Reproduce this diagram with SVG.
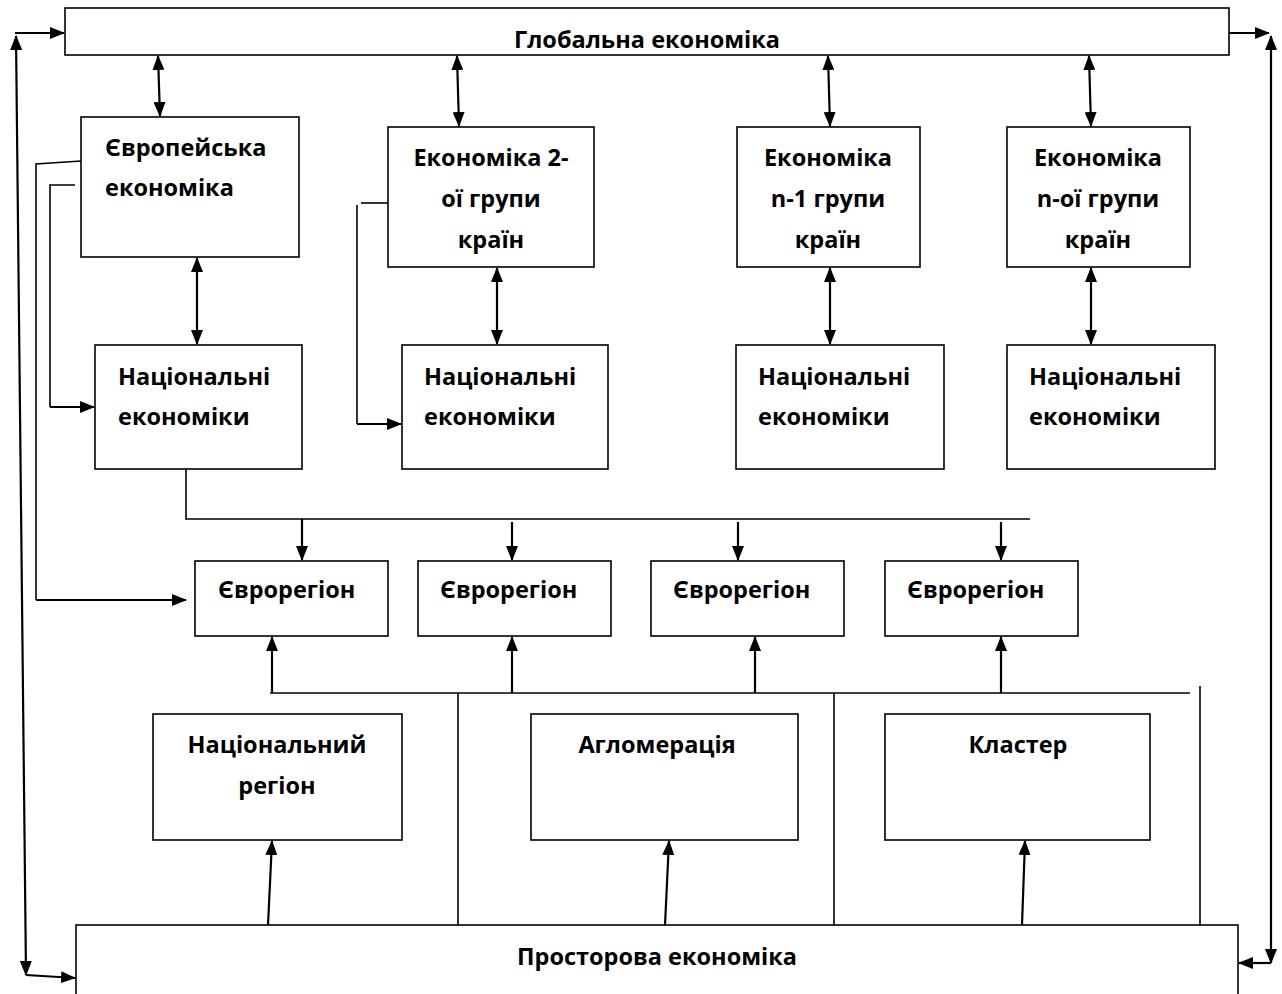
<svg xmlns="http://www.w3.org/2000/svg" width="1282" height="994" viewBox="0 0 1282 994">
<style>
.box{fill:#fff;stroke:#000;stroke-width:1.6}
.t{font-family:"Open Sans","Noto Sans",sans-serif;font-weight:bold;font-size:23.5px;fill:#000}
.c{text-anchor:middle}
.ln{fill:none;stroke:#000;stroke-width:1.6}
.ar{fill:none;stroke:#000;stroke-width:2.2}
</style>
<defs>
<marker id="ah" markerWidth="15" markerHeight="12" refX="14" refY="6" orient="auto" markerUnits="userSpaceOnUse"><path d="M0,0 L15,6 L0,12 Z" fill="#000"/></marker>
<marker id="as" markerWidth="15" markerHeight="12" refX="1" refY="6" orient="auto" markerUnits="userSpaceOnUse"><path d="M15,0 L0,6 L15,12 Z" fill="#000"/></marker>
</defs>
<g id="connectors">
<line class="ar" x1="15" y1="33" x2="64" y2="33" marker-end="url(#ah)"/>
<line class="ar" x1="26" y1="975" x2="16" y2="36" marker-end="url(#ah)" marker-start="url(#as)"/>
<line class="ar" x1="26" y1="975" x2="75" y2="978" marker-end="url(#ah)"/>
<line class="ar" x1="1229" y1="33" x2="1269" y2="33" marker-end="url(#ah)"/>
<line class="ar" x1="1271" y1="963" x2="1271" y2="36" marker-end="url(#ah)" marker-start="url(#as)"/>
<line class="ar" x1="1271" y1="963" x2="1239" y2="963" marker-end="url(#ah)"/>
<line class="ar" x1="158" y1="56" x2="160" y2="116" marker-start="url(#as)" marker-end="url(#ah)"/>
<line class="ar" x1="457" y1="56" x2="459" y2="126" marker-start="url(#as)" marker-end="url(#ah)"/>
<line class="ar" x1="828" y1="56" x2="830" y2="126" marker-start="url(#as)" marker-end="url(#ah)"/>
<line class="ar" x1="1089" y1="56" x2="1091" y2="126" marker-start="url(#as)" marker-end="url(#ah)"/>
<line class="ar" x1="197" y1="258" x2="197" y2="344" marker-start="url(#as)" marker-end="url(#ah)"/>
<line class="ar" x1="497" y1="268" x2="497" y2="344" marker-start="url(#as)" marker-end="url(#ah)"/>
<line class="ar" x1="830" y1="268" x2="830" y2="344" marker-start="url(#as)" marker-end="url(#ah)"/>
<line class="ar" x1="1091" y1="268" x2="1091" y2="344" marker-start="url(#as)" marker-end="url(#ah)"/>
<polyline class="ln" points="81,161 36,164 36,600"/>
<line class="ar" x1="36" y1="600" x2="186" y2="600" marker-end="url(#ah)"/>
<polyline class="ln" points="75,185 50,185 50,407"/>
<line class="ar" x1="50" y1="407" x2="94" y2="407" marker-end="url(#ah)"/>
<polyline class="ln" points="388,203 361,203"/>
<polyline class="ln" points="357,205 357,424"/>
<line class="ar" x1="357" y1="424" x2="401" y2="424" marker-end="url(#ah)"/>
<polyline class="ln" points="186,469 186,519 1030,519"/>
<line class="ar" x1="302" y1="519" x2="302" y2="560" marker-end="url(#ah)"/>
<line class="ar" x1="512" y1="522" x2="512" y2="560" marker-end="url(#ah)"/>
<line class="ar" x1="738" y1="522" x2="738" y2="560" marker-end="url(#ah)"/>
<line class="ar" x1="1001" y1="522" x2="1001" y2="560" marker-end="url(#ah)"/>
<line class="ln" x1="270" y1="693" x2="1190" y2="693"/>
<line class="ar" x1="272" y1="693" x2="272" y2="637" marker-end="url(#ah)"/>
<line class="ar" x1="512" y1="693" x2="512" y2="637" marker-end="url(#ah)"/>
<line class="ar" x1="755" y1="693" x2="755" y2="637" marker-end="url(#ah)"/>
<line class="ar" x1="1001" y1="693" x2="1001" y2="637" marker-end="url(#ah)"/>
<line class="ln" x1="458" y1="693" x2="458" y2="925"/>
<line class="ln" x1="834" y1="693" x2="834" y2="925"/>
<line class="ln" x1="1200" y1="686" x2="1200" y2="925"/>
<line class="ar" x1="268" y1="925" x2="272" y2="841" marker-end="url(#ah)"/>
<line class="ar" x1="665" y1="925" x2="669" y2="841" marker-end="url(#ah)"/>
<line class="ar" x1="1022" y1="925" x2="1025" y2="841" marker-end="url(#ah)"/>
</g>
<g id="global"><rect class="box" x="65" y="8" width="1164" height="47"/><text class="t c" x="647" y="48">Глобальна економіка</text></g>
<g id="spatial"><rect class="box" x="76" y="925" width="1162" height="80"/><text class="t c" x="657" y="965">Просторова економіка</text></g>
<g id="european"><rect class="box" x="81" y="117" width="218" height="140"/><text class="t" x="105" y="156">Європейська</text><text class="t" x="105" y="196">економіка</text></g>
<g id="group2"><rect class="box" x="388" y="127" width="206" height="140"/><text class="t c" x="491" y="166">Економіка 2-</text><text class="t c" x="491" y="207">ої групи</text><text class="t c" x="491" y="248">країн</text></g>
<g id="groupn1"><rect class="box" x="737" y="127" width="183" height="140"/><text class="t c" x="828" y="166">Економіка</text><text class="t c" x="828" y="207">n-1 групи</text><text class="t c" x="828" y="248">країн</text></g>
<g id="groupn"><rect class="box" x="1007" y="127" width="183" height="140"/><text class="t c" x="1098" y="166">Економіка</text><text class="t c" x="1098" y="207">n-ої групи</text><text class="t c" x="1098" y="248">країн</text></g>
<g id="nat1"><rect class="box" x="95" y="345" width="207" height="124"/><text class="t" x="118" y="385">Національні</text><text class="t" x="118" y="425">економіки</text></g>
<g id="nat2"><rect class="box" x="402" y="345" width="206" height="124"/><text class="t" x="424" y="385">Національні</text><text class="t" x="424" y="425">економіки</text></g>
<g id="nat3"><rect class="box" x="736" y="345" width="208" height="124"/><text class="t" x="758" y="385">Національні</text><text class="t" x="758" y="425">економіки</text></g>
<g id="nat4"><rect class="box" x="1007" y="345" width="208" height="124"/><text class="t" x="1029" y="385">Національні</text><text class="t" x="1029" y="425">економіки</text></g>
<g id="euro1"><rect class="box" x="195" y="561" width="193" height="75"/><text class="t" x="218" y="598">Єврорегіон</text></g>
<g id="euro2"><rect class="box" x="418" y="561" width="193" height="75"/><text class="t" x="440" y="598">Єврорегіон</text></g>
<g id="euro3"><rect class="box" x="651" y="561" width="193" height="75"/><text class="t" x="673" y="598">Єврорегіон</text></g>
<g id="euro4"><rect class="box" x="885" y="561" width="193" height="75"/><text class="t" x="907" y="598">Єврорегіон</text></g>
<g id="natregion"><rect class="box" x="153" y="714" width="249" height="126"/><text class="t c" x="277" y="753">Національний</text><text class="t c" x="277" y="794">регіон</text></g>
<g id="agglo"><rect class="box" x="531" y="714" width="267" height="126"/><text class="t c" x="657" y="753">Агломерація</text></g>
<g id="cluster"><rect class="box" x="885" y="714" width="265" height="126"/><text class="t c" x="1018" y="753">Кластер</text></g>
</svg>
